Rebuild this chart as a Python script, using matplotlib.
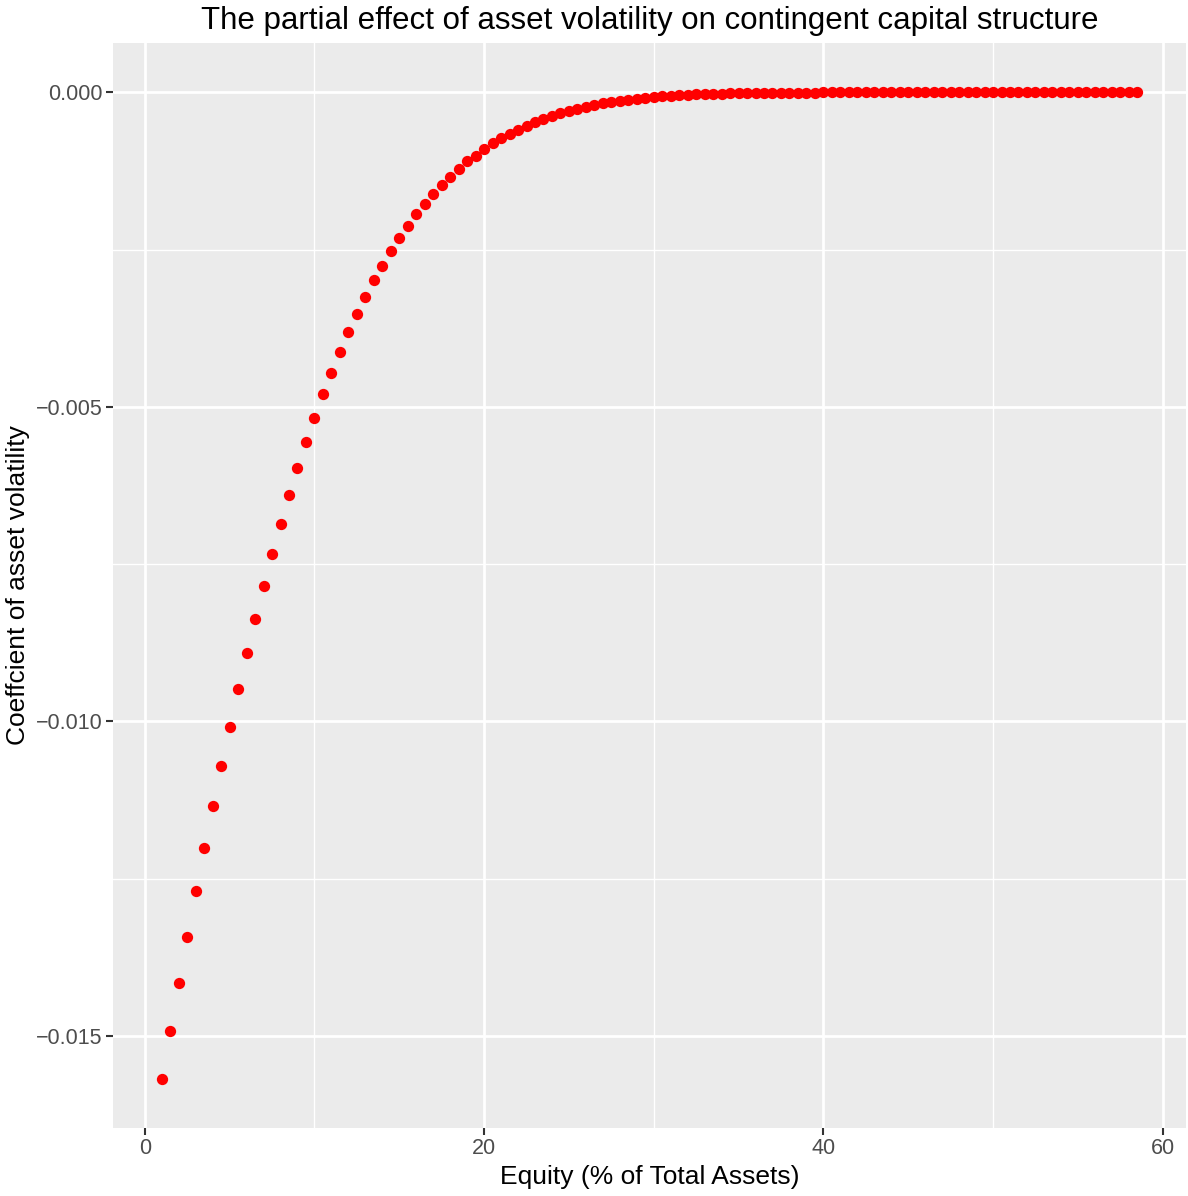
import matplotlib
matplotlib.use("Agg")
import matplotlib.pyplot as plt
from matplotlib.ticker import FixedLocator

plt.rcParams['font.family'] = ['Liberation Sans', 'DejaVu Sans']

equity = [1.0, 1.5, 2.0, 2.5, 3.0, 3.5, 4.0, 4.5, 5.0, 5.5, 6.0, 6.5, 7.0, 7.5, 8.0, 8.5, 9.0, 9.5,
          10.0, 10.5, 11.0, 11.5, 12.0, 12.5, 13.0, 13.5, 14.0, 14.5, 15.0, 15.5, 16.0, 16.5, 17.0, 17.5,
          18.0, 18.5, 19.0, 19.5, 20.0, 20.5, 21.0, 21.5, 22.0, 22.5, 23.0, 23.5, 24.0, 24.5, 25.0, 25.5,
          26.0, 26.5, 27.0, 27.5, 28.0, 28.5, 29.0, 29.5, 30.0, 30.5, 31.0, 31.5, 32.0, 32.5, 33.0, 33.5,
          34.0, 34.5, 35.0, 35.5, 36.0, 36.5, 37.0, 37.5, 38.0, 38.5, 39.0, 39.5, 40.0, 40.5, 41.0, 41.5,
          42.0, 42.5, 43.0, 43.5, 44.0, 44.5, 45.0, 45.5, 46.0, 46.5, 47.0, 47.5, 48.0, 48.5, 49.0, 49.5,
          50.0, 50.5, 51.0, 51.5, 52.0, 52.5, 53.0, 53.5, 54.0, 54.5, 55.0, 55.5, 56.0, 56.5, 57.0, 57.5,
          58.0, 58.5]

coef = [-0.015681, -0.014918, -0.014154, -0.013423, -0.012691, -0.012008, -0.011340, -0.010704,
        -0.010084, -0.009480, -0.008907, -0.008367, -0.007842, -0.007333, -0.006856, -0.006395,
        -0.005966, -0.005553, -0.005171, -0.004790, -0.004456, -0.004122, -0.003804, -0.003518,
        -0.003248, -0.002977, -0.002755, -0.002517, -0.002310, -0.002119, -0.001928, -0.001769,
        -0.001610, -0.001467, -0.001340, -0.001213, -0.001086, -0.001006, -0.000895, -0.000800,
        -0.000720, -0.000657, -0.000593, -0.000529, -0.000466, -0.000418, -0.000370, -0.000323,
        -0.000291, -0.000259, -0.000227, -0.000196, -0.000164, -0.000148, -0.000132, -0.000116,
        -0.000100, -0.000084, -0.000068, -0.000060, -0.000052, -0.000045, -0.000039, -0.000034,
        -0.000029, -0.000025, -0.000021, -0.000018, -0.000015, -0.000013, -0.000011, -0.000009,
        -0.000008, -0.000006, -0.000005, -0.000004, -0.000003, -0.000003, -0.000002, -0.000002,
        -0.000001, -0.000001, -0.000001, -0.000001, 0.0, 0.0, 0.0, 0.0, 0.0, 0.0, 0.0, 0.0, 0.0,
        0.0, 0.0, 0.0, 0.0, 0.0, 0.0, 0.0, 0.0, 0.0, 0.0, 0.0, 0.0, 0.0, 0.0, 0.0, 0.0, 0.0, 0.0,
        0.0, 0.0, 0.0, 0.0, 0.0]

x_ticks = [0, 20, 40, 60]
x_minor = [10, 30, 50]
y_ticks = [-0.015, -0.010, -0.005, 0.000]
y_tick_labels = ["\u22120.015", "\u22120.010", "\u22120.005", "0.000"]
y_minor = [-0.0125, -0.0075, -0.0025]

W, H = 1188, 1196
fig = plt.figure(figsize=(W / 100, H / 100), dpi=100)
left, right, top, bottom = 113, 1186, 43, 1128
ax = fig.add_axes([left / W, 1 - bottom / H, (right - left) / W, (bottom - top) / H])
ax.set_facecolor('#EBEBEB')
for s in ax.spines.values():
    s.set_visible(False)

xspan = max(equity) - min(equity)
ax.set_xlim(min(equity) - 0.05 * xspan, max(equity) + 0.05 * xspan)
yspan = max(coef) - min(coef)
ax.set_ylim(min(coef) - 0.05 * yspan, max(coef) + 0.05 * yspan)

ax.xaxis.set_major_locator(FixedLocator(x_ticks))
ax.xaxis.set_minor_locator(FixedLocator(x_minor))
ax.yaxis.set_major_locator(FixedLocator(y_ticks))
ax.yaxis.set_minor_locator(FixedLocator(y_minor))
ax.set_xticklabels([str(t) for t in x_ticks])
ax.set_yticklabels(y_tick_labels)

ax.grid(which='major', color='white', linewidth=2.0)
ax.grid(which='minor', color='white', linewidth=1.0)
ax.set_axisbelow(True)
ax.tick_params(which='major', length=5, width=1.5, color='#333333', labelcolor='#4D4D4D',
               labelsize=15.5, pad=2.5)
ax.tick_params(which='minor', length=0)

ax.scatter(equity, coef, s=66, color='#FF0000', linewidths=0, zorder=3)

ax.set_xlabel("Equity (% of Total Assets)", fontsize=19, color='black', labelpad=4)
ax.set_ylabel("Coeffcient of asset volatility", fontsize=19, color='black', labelpad=4.5)
ax.set_title("The partial effect of asset volatility on contingent capital structure",
             fontsize=22.5, color='black', pad=10)

fig.savefig("out.png", dpi=100, facecolor='white')
